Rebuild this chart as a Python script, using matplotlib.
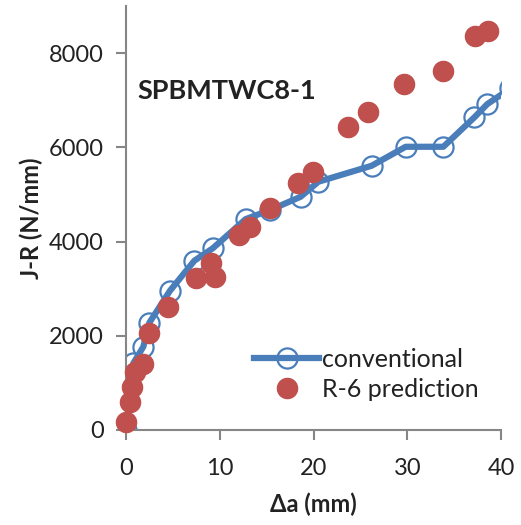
import matplotlib.pyplot as plt

plt.rcParams['font.family'] = ['Lato', 'DejaVu Sans']

# conventional J-R curve
conv_da = [0, 0.78, 1.85, 2.49, 4.69, 7.29, 9.25, 12.77, 15.36, 18.63, 20.51,
           26.2, 29.83, 33.85, 37.15, 38.54, 41.0]
conv_jr = [0, 1415, 1768, 2277, 2956, 3593, 3856, 4477, 4668, 4951, 5269,
           5609, 6012, 6012, 6635, 6918, 7250]

# R-6 prediction
r6_da = [0, 0.43, 0.61, 0.96, 1.85, 2.49, 4.51, 7.43, 9.07, 9.49, 12.05, 13.23,
         15.36, 18.38, 19.98, 23.71, 25.85, 29.65, 33.85, 37.23, 38.58]
r6_jr = [176, 600, 919, 1237, 1400, 2052, 2616, 3232, 3550, 3253, 4138, 4301,
         4704, 5235, 5482, 6436, 6741, 7335, 7625, 8367, 8473]

blue = '#4A7EBB'
red = '#C0504D'
grey = '#868686'
txt = '#222222'

fig = plt.figure(figsize=(5.21, 5.25), dpi=100)
ax = fig.add_axes([126 / 521, 95 / 525, 375 / 521, 424 / 525])

ax.plot(conv_da, conv_jr, color=blue, lw=4.5, marker='o', ms=14.5,
        mfc='none', mec=blue, mew=1.6, label='conventional', zorder=2)
ax.plot(r6_da, r6_jr, ls='none', marker='o', ms=14.5, mfc=red, mec=red,
        label='R-6 prediction', zorder=3, clip_on=False)

ax.set_xlim(0, 40)
ax.set_ylim(0, 9000)
ax.set_xticks([0, 10, 20, 30, 40])
ax.set_yticks([0, 2000, 4000, 6000, 8000])

for s in ['top', 'right']:
    ax.spines[s].set_visible(False)
for s in ['left', 'bottom']:
    ax.spines[s].set_color(grey)
    ax.spines[s].set_linewidth(1.5)
ax.tick_params(direction='out', length=7, width=1.5, color=grey,
               labelsize=17, labelcolor=txt)
ax.tick_params(axis='x', pad=13)
ax.tick_params(axis='y', pad=9)

ax.set_xlabel('\u0394a (mm)', fontsize=17, fontweight='bold', color=txt, labelpad=10)
ax.set_ylabel('J-R (N/mm)', fontsize=17, fontweight='bold', color=txt, labelpad=4)

ax.text(0.03, 0.8, 'SPBMTWC8-1', transform=ax.transAxes, fontsize=19.5,
        fontweight='bold', color=txt, va='center')

ax.legend(loc='lower right', bbox_to_anchor=(1.0, 0.015), frameon=False,
          fontsize=18, handlelength=2.6, handletextpad=0.1, labelspacing=0.3,
          labelcolor=txt)

fig.savefig('out.png', dpi=100)
